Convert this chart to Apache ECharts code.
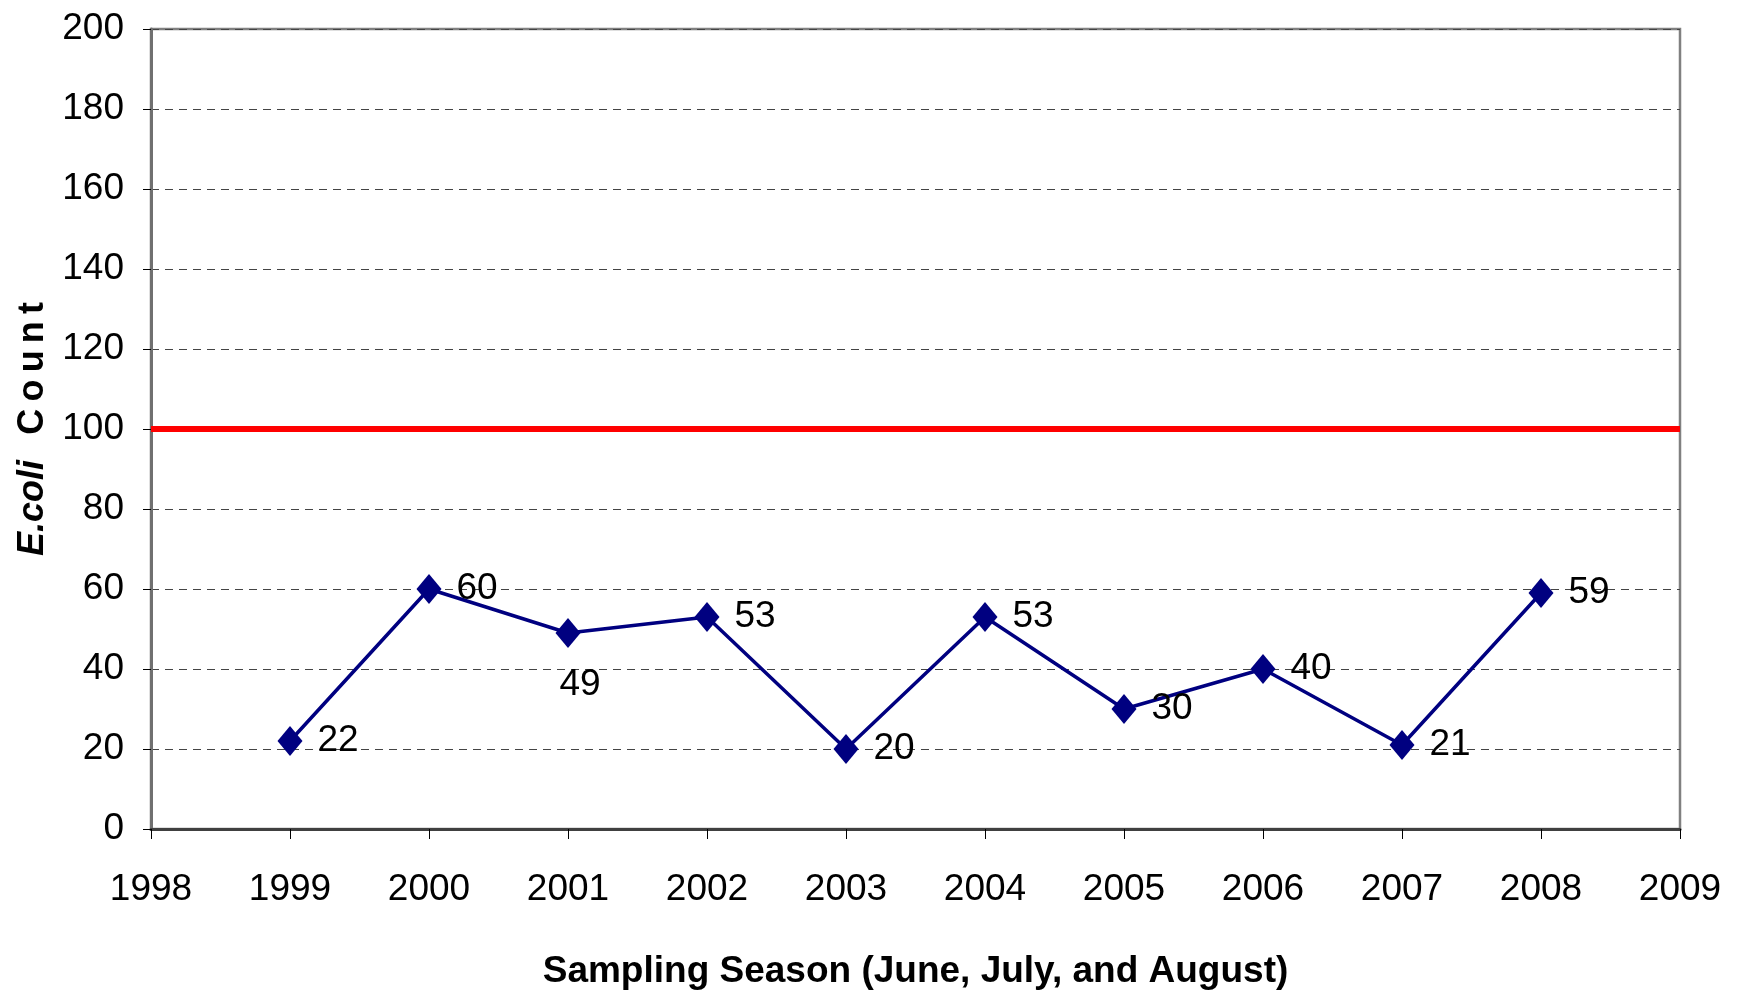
<!DOCTYPE html>
<html>
<head>
<meta charset="utf-8">
<script src="https://cdn.jsdelivr.net/npm/echarts@6/dist/echarts.min.js"></script>
<style>
html,body{margin:0;padding:0;background:#fff;}
#chart{width:1738px;height:995px;}
</style>
</head>
<body>
<div id="chart"></div>
<script>
const years = [1999, 2000, 2001, 2002, 2003, 2004, 2005, 2006, 2007, 2008];
const counts = [22, 60, 49, 53, 20, 53, 30, 40, 21, 59];
const standardValue = 100;
const xTitle = 'Sampling Season (June, July, and August)';
const yTitleItalic = 'E.coli';
const yTitleRest = 'Count';

const FONT = "'Liberation Sans','Arial',sans-serif";
const TFONT = "'Liberation Sans','Arial',sans-serif";

const chart = echarts.init(document.getElementById('chart'), null, {renderer: 'canvas'});
const labelBelowIdx = [2];

const option = {
  backgroundColor: '#ffffff',
  animation: false,
  grid: {left: 151, right: 58, top: 29, bottom: 164, show: true, borderColor: '#808080', borderWidth: 2.5, backgroundColor: 'transparent'},
  xAxis: {
    type: 'value', min: 1998, max: 2009, interval: 1,
    name: xTitle, nameLocation: 'middle', nameGap: 124,
    nameTextStyle: {fontFamily: TFONT, fontWeight: 'bold', fontSize: 37, color: '#000'},
    axisLine: {show: true, lineStyle: {color: '#404040', width: 3}},
    axisTick: {show: true, length: 10, lineStyle: {color: '#000', width: 1}},
    axisLabel: {fontFamily: FONT, fontSize: 37, color: '#000', margin: 42, formatter: v => String(v)},
    splitLine: {show: false}
  },
  yAxis: {
    type: 'value', min: 0, max: 200, interval: 20,
    name: '{i|' + yTitleItalic + '}{n|\u2002\u2009' + yTitleRest.split('').join('\u2009') + '}',
    nameLocation: 'middle', nameGap: 100, nameRotate: 90,
    nameTextStyle: {
      rich: {
        i: {fontFamily: TFONT, fontWeight: 'bold', fontStyle: 'italic', fontSize: 36, color: '#000'},
        n: {fontFamily: TFONT, fontWeight: 'bold', fontSize: 36, color: '#000'}
      }
    },
    axisLine: {show: true, lineStyle: {color: '#707070', width: 3}},
    axisTick: {show: true, length: 8, lineStyle: {color: '#000', width: 1}},
    axisLabel: {fontFamily: FONT, fontSize: 37, color: '#000', margin: 27},
    splitLine: {show: true, lineStyle: {color: '#444', width: 1, type: [8, 6]}}
  },
  series: [{
    type: 'line',
    data: years.map((y, i) => {
      const d = {value: [y, counts[i]]};
      if (labelBelowIdx.includes(i)) {
        d.label = {position: 'bottom', distance: 18, offset: [12, 0]};
      }
      return d;
    }),
    symbol: 'diamond',
    symbolSize: [25, 30],
    itemStyle: {color: '#000080'},
    lineStyle: {color: '#000080', width: 3.5},
    label: {
      show: true, position: 'right', distance: 15,
      fontFamily: FONT, fontSize: 37, color: '#000',
      formatter: p => String(p.value[1])
    },
    z: 3,
    markLine: {
      silent: true, symbol: 'none',
      label: {show: false},
      lineStyle: {color: '#ff0000', width: 6, type: 'solid'},
      data: [[{coord: [1998, standardValue]}, {coord: [2009, standardValue]}]],
      z: 2
    }
  }]
};
chart.setOption(option);
</script>
</body>
</html>
